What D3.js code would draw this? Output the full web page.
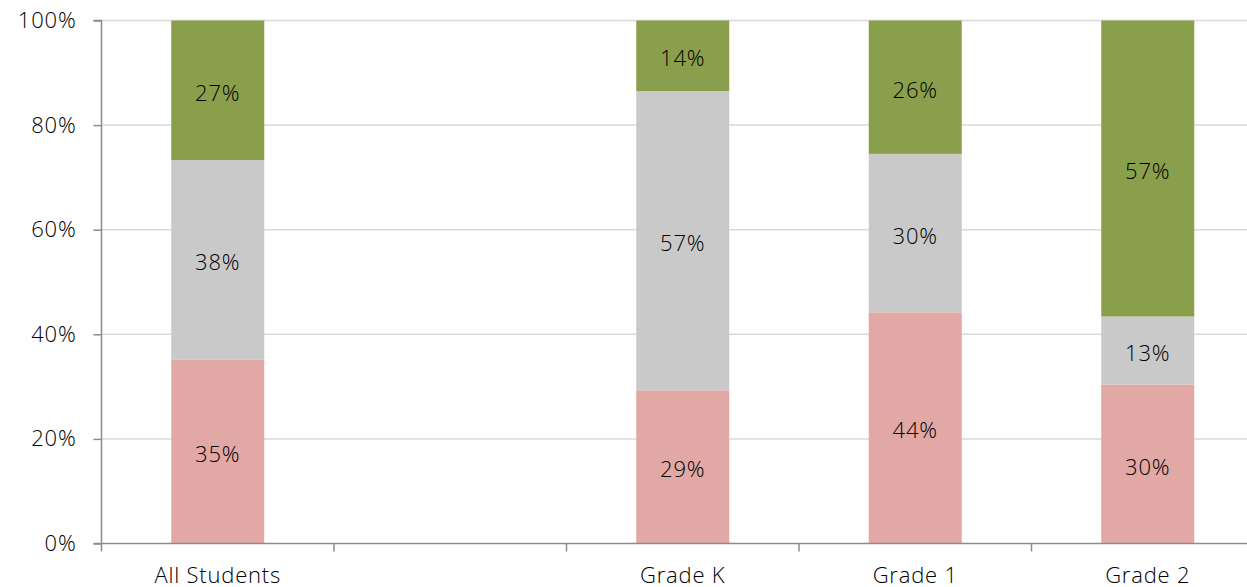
<!DOCTYPE html>
<html><head><meta charset="utf-8">
<script src="https://cdn.jsdelivr.net/npm/d3@7"></script>
<style>
html,body{margin:0;padding:0;background:#fff;}
svg{display:block;}
text{font-family:"Open Sans","DejaVu Sans",sans-serif;font-weight:300;letter-spacing:0.8px;fill:#000;}
</style></head>
<body>
<svg id="chart" width="1247" height="587"></svg>
<script>
const categories = ["All Students", "", "Grade K", "Grade 1", "Grade 2"];
const seriesNames = ["Below", "Middle", "Above"];
const below  = [35.2, null, 29.3, 44.2, 30.4];
const middle = [38.1, null, 57.2, 30.3, 13.0];
const above  = [26.7, null, 13.5, 25.5, 56.6];
const belowLabels  = ["35%", "", "29%", "44%", "30%"];
const middleLabels = ["38%", "", "57%", "30%", "13%"];
const aboveLabels  = ["27%", "", "14%", "26%", "57%"];
const yTicks = [0, 20, 40, 60, 80, 100];
const colors = ["#e1a8a6", "#c9c9c9", "#8a9f4b"];

const svg = d3.select("#chart");
const W = 1247, H = 587;
const mLeft = 101.5, mRight = 1264, mTop = 20.5, mBottom = 543.5;
const FS = 22;

const x = d3.scaleBand().domain(categories).range([mLeft, mRight]).padding(0);
const y = d3.scaleLinear().domain([0, 100]).range([mBottom, mTop]);
const barW = x.bandwidth() * 0.4;

// gridlines
svg.append("g").selectAll("line").data(yTicks.filter(d => d > 0)).join("line")
  .attr("x1", mLeft).attr("x2", W)
  .attr("y1", d => y(d)).attr("y2", d => y(d))
  .attr("stroke", "#d9d9d9").attr("stroke-width", 1.5);

// stacked data
const rows = categories.map((c, i) => ({cat: c, Below: below[i] || 0, Middle: middle[i] || 0, Above: above[i] || 0,
  labels: [belowLabels[i], middleLabels[i], aboveLabels[i]]}));
const stack = d3.stack().keys(seriesNames)(rows);

const g = svg.append("g");
stack.forEach((s, si) => {
  g.selectAll(null).data(s.filter(d => d[1] > d[0])).join("rect")
    .attr("x", d => x(d.data.cat) + (x.bandwidth() - barW) / 2)
    .attr("width", barW)
    .attr("y", d => y(d[1]))
    .attr("height", d => y(d[0]) - y(d[1]))
    .attr("fill", colors[si]);
  g.selectAll(null).data(s.filter(d => d[1] > d[0])).join("text")
    .attr("x", d => x(d.data.cat) + x.bandwidth() / 2)
    .attr("y", d => (y(d[0]) + y(d[1])) / 2 + 1.5)
    .attr("text-anchor", "middle").attr("dominant-baseline", "central")
    .attr("font-size", FS)
    .text(d => d.data.labels[si]);
});

// y axis
const yAxis = d3.axisLeft(y).tickValues(yTicks).tickFormat(d => d + "%").tickSize(8).tickPadding(17);
const ya = svg.append("g").attr("transform", `translate(${mLeft},0)`).call(yAxis);
ya.select(".domain").attr("stroke", "#8c8c8c").attr("stroke-width", 1.5).attr("d", `M-8,${mTop}H0V${mBottom}H-8`);
ya.selectAll(".tick line").attr("stroke", "#8c8c8c").attr("stroke-width", 1.5);
ya.selectAll(".tick text").attr("font-size", FS).attr("font-family", null).attr("fill", "#000");

// x axis with ticks at slot boundaries
const xa = svg.append("g").attr("transform", `translate(0,${mBottom})`);
xa.append("line").attr("x1", mLeft).attr("x2", W).attr("y1", 0).attr("y2", 0)
  .attr("stroke", "#8c8c8c").attr("stroke-width", 1.5);
const bounds = categories.map(c => x(c)).concat([mRight]);
xa.selectAll(".bt").data(bounds).join("line").attr("class", "bt")
  .attr("x1", d => d).attr("x2", d => d).attr("y1", 0).attr("y2", 8)
  .attr("stroke", "#8c8c8c").attr("stroke-width", 1.5);
xa.selectAll(".lb").data(categories).join("text").attr("class", "lb")
  .attr("x", d => x(d) + x.bandwidth() / 2).attr("y", 39)
  .attr("text-anchor", "middle").attr("font-size", FS)
  .text(d => d);
</script>
</body></html>
